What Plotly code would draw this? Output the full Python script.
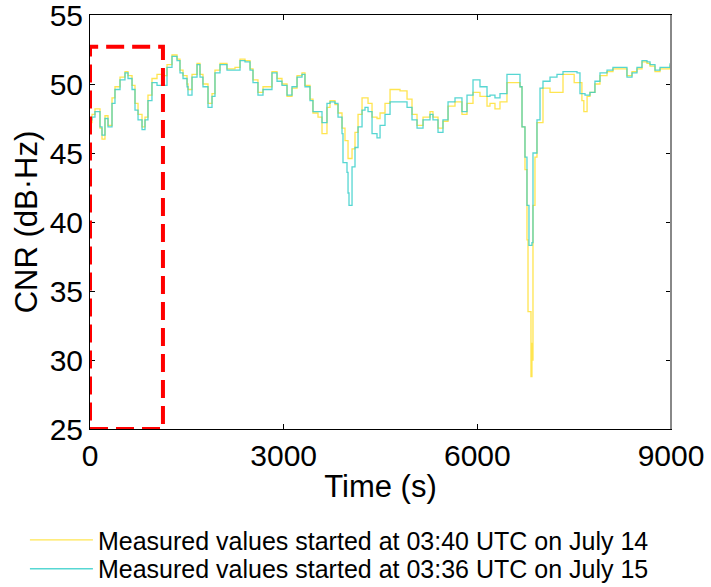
import plotly.graph_objects as go

# Time (s) and CNR (dB·Hz) readings, July 15 series (cyan)
t_jul15 = [0, 31, 77, 155, 186, 232, 279, 341, 387, 465, 542, 589, 651, 697, 744, 806, 852, 898,
           960, 1038, 1115, 1193, 1270, 1348, 1394, 1441, 1503, 1518, 1580, 1658, 1704, 1750, 1828,
           1890, 1936, 2014, 2122, 2246, 2324, 2401, 2479, 2525, 2602, 2680, 2819, 2897, 2974, 3052,
           3129, 3207, 3284, 3330, 3408, 3454, 3532, 3594, 3671, 3718, 3795, 3842, 3904, 3919, 3981,
           3997, 4012, 4059, 4105, 4152, 4214, 4260, 4307, 4369, 4446, 4493, 4570, 4648, 4802, 4911,
           4988, 5066, 5159, 5267, 5313, 5391, 5468, 5546, 5654, 5762, 5840, 5933, 6041, 6150, 6196,
           6273, 6351, 6459, 6614, 6661, 6692, 6738, 6769, 6800, 6846, 6862, 6924, 6971, 7017, 7126,
           7234, 7327, 7436, 7544, 7590, 7668, 7745, 7822, 7900, 8009, 8101, 8241, 8318, 8396, 8473,
           8551, 8628, 8675, 8752, 8830, 8907, 8985]
cnr_jul15 = [47.4, 47.6, 48.0, 46.9, 46.3, 47.5, 46.9, 48.6, 49.6, 50.3, 50.8, 50.4, 49.6, 48.1,
             47.4, 46.7, 47.4, 48.8, 50.1, 49.9, 49.9, 51.2, 52.0, 51.7, 50.8, 50.4, 49.8, 49.2,
             50.5, 51.4, 50.5, 49.8, 48.3, 49.1, 50.8, 51.4, 51.0, 51.0, 51.7, 51.6, 51.0, 50.1,
             49.2, 49.6, 50.8, 50.2, 49.9, 49.2, 49.8, 50.5, 50.7, 49.8, 48.8, 48.0, 48.0, 47.2,
             48.6, 48.7, 48.6, 47.6, 46.4, 44.3, 43.6, 42.1, 41.2, 44.0, 45.4, 46.9, 48.1, 48.3,
             48.0, 46.4, 46.1, 47.0, 47.8, 48.7, 48.7, 48.3, 47.4, 46.8, 47.4, 47.8, 47.4, 46.5,
             47.4, 48.7, 49.0, 48.0, 49.2, 50.3, 49.8, 49.1, 49.2, 49.0, 49.3, 50.7, 50.7, 49.8,
             46.9, 44.7, 41.2, 38.3, 38.5, 45.0, 47.4, 49.7, 50.2, 50.5, 50.7, 50.9, 50.9, 50.8,
             49.3, 49.2, 49.4, 50.2, 50.8, 51.0, 51.2, 51.2, 50.5, 50.8, 51.2, 51.7, 51.6, 51.4,
             51.0, 51.2, 51.2, 51.5]

# July 14 series (yellow)
t_jul14 = [0, 31, 77, 155, 186, 232, 279, 341, 387, 465, 542, 589, 651, 697, 744, 806, 852, 898,
           960, 1038, 1115, 1193, 1270, 1348, 1394, 1441, 1503, 1518, 1580, 1658, 1704, 1750, 1828,
           1890, 1936, 2014, 2122, 2246, 2324, 2401, 2479, 2525, 2602, 2680, 2819, 2897, 2974, 3052,
           3129, 3207, 3284, 3330, 3408, 3454, 3532, 3594, 3671, 3718, 3795, 3842, 3904, 3950, 3997,
           4059, 4105, 4152, 4214, 4260, 4307, 4369, 4446, 4493, 4570, 4648, 4802, 4911, 4988, 5066,
           5159, 5267, 5313, 5391, 5468, 5546, 5654, 5762, 5840, 5933, 6041, 6150, 6196, 6273, 6351,
           6459, 6614, 6661, 6692, 6738, 6769, 6785, 6831, 6846, 6855, 6862, 6893, 6924, 7017, 7126,
           7234, 7327, 7500, 7620, 7650, 7700, 7745, 7822, 7900, 8009, 8101, 8241, 8318, 8396, 8473,
           8551, 8628, 8675, 8752, 8830, 8907, 8985]
cnr_jul14 = [47.2, 47.8, 48.2, 46.8, 46.0, 47.7, 47.0, 49.0, 49.8, 50.5, 50.9, 50.6, 49.9, 48.6,
             47.8, 46.9, 47.6, 49.2, 50.4, 50.7, 50.6, 51.4, 52.1, 51.8, 51.0, 50.6, 50.0, 49.6,
             50.7, 51.5, 50.7, 50.0, 48.6, 49.3, 51.0, 51.5, 51.1, 51.2, 51.8, 51.7, 51.1, 50.3,
             49.4, 49.8, 50.9, 50.4, 50.0, 49.1, 49.7, 50.6, 50.8, 49.9, 48.9, 47.9, 47.6, 46.4,
             48.3, 48.8, 48.5, 47.9, 46.8, 45.9, 44.6, 45.3, 46.5, 47.8, 49.0, 49.0, 48.6, 47.6,
             47.5, 47.9, 48.6, 49.6, 49.5, 48.9, 47.8, 47.0, 47.6, 48.0, 47.6, 46.8, 47.3, 48.4,
             48.7, 47.8, 48.6, 49.4, 49.1, 48.4, 48.6, 48.2, 48.7, 50.1, 50.1, 49.8, 46.9, 43.8,
             38.7, 33.5, 28.8, 31.2, 30.0, 41.2, 44.7, 47.2, 49.7, 49.4, 49.4, 50.7, 50.1, 48.8,
             48.0, 49.1, 49.4, 50.0, 50.6, 50.9, 51.1, 51.1, 50.6, 50.9, 51.1, 51.6, 51.5, 51.3,
             50.9, 51.1, 51.1, 51.4]

legend_names = ["Measured values started at 03:40 UTC on July 14",
                "Measured values started at 03:36 UTC on July 15"]

x_ticks = [0, 3000, 6000, 9000]
y_ticks = [25, 30, 35, 40, 45, 50, 55]
box_t_end = 1130
box_cnr_top = 52.7

FONT = "Liberation Sans, Arial"

fig = go.Figure()
fig.add_trace(go.Scatter(x=t_jul14, y=cnr_jul14, mode="lines", line_shape="hv",
                         name=legend_names[0], opacity=0.85, legend="legend",
                         line=dict(color="rgb(255,225,50)", width=1.3)))
fig.add_trace(go.Scatter(x=t_jul15, y=cnr_jul15, mode="lines", line_shape="hv",
                         name=legend_names[1], opacity=0.8, legend="legend2",
                         line=dict(color="rgb(45,205,200)", width=1.3)))

fig.add_shape(type="rect", xref="x", yref="y", x0=0, x1=box_t_end, y0=25, y1=box_cnr_top,
              line=dict(color="red", width=4, dash="18px,8px"), layer="above")
fig.add_shape(type="line", xref="paper", yref="paper", x0=1, x1=1, y0=0, y1=1,
              line=dict(color="#888888", width=2))

axis_font = dict(family=FONT, size=30, color="black")
leg_common = dict(x=-0.112, xanchor="left", yanchor="top",
                  font=dict(size=25, family=FONT, color="black"),
                  itemwidth=63, bgcolor="rgba(0,0,0,0)")
fig.update_layout(
    width=711, height=587,
    margin=dict(l=90, r=40, t=15, b=158, autoexpand=False),
    paper_bgcolor="white", plot_bgcolor="white",
    font=dict(family=FONT, color="black"),
    showlegend=True,
    legend=dict(y=-0.2127, **leg_common),
    legend2=dict(y=-0.2826, **leg_common),
    xaxis=dict(range=[0, 9000], tickvals=x_ticks, tickfont=axis_font, automargin=True,
               ticklabeloverflow="allow",
               title=dict(text="Time (s)", font=dict(size=31, family=FONT), standoff=4),
               showgrid=False, zeroline=False, showline=True, linecolor="black", linewidth=1,
               mirror="ticks", ticks="inside", ticklen=5, tickcolor="black"),
    yaxis=dict(range=[25, 55], tickvals=y_ticks, tickfont=axis_font, automargin=True,
               ticklabeloverflow="allow",
               title=dict(text="CNR (dB·Hz)", font=dict(size=31, family=FONT), standoff=2),
               showgrid=False, zeroline=False, showline=True, linecolor="black", linewidth=1,
               mirror="ticks", ticks="inside", ticklen=5, tickcolor="black"),
)

fig.write_html("out.html", config={"displayModeBar": False},
               post_script="document.body.style.margin='0';")
